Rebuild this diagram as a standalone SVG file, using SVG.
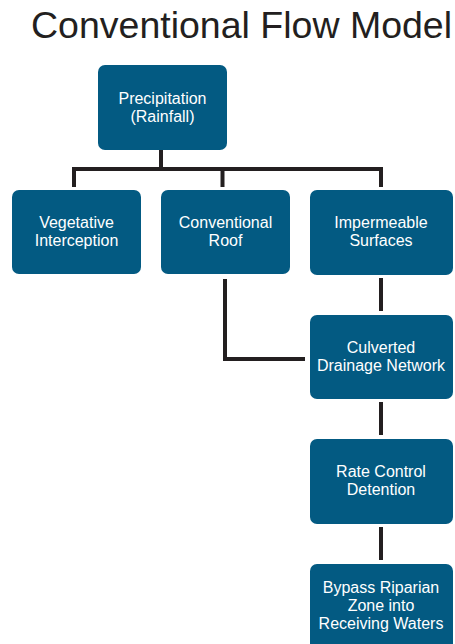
<svg xmlns="http://www.w3.org/2000/svg" width="455" height="644" viewBox="0 0 455 644">
  <style>
    .box { fill: #035a82; }
    .label { font-family: "Liberation Sans", Arial, Helvetica, sans-serif; font-size: 16px; fill: #ffffff; text-anchor: middle; }
    .title { font-family: "Liberation Sans", Arial, Helvetica, sans-serif; font-size: 37.5px; fill: #231f20; }
    .wire { fill: none; stroke: #231f20; stroke-width: 4; stroke-linecap: butt; stroke-linejoin: miter; }
  </style>
  <rect width="455" height="644" fill="#ffffff"/>

  <text class="title" x="31" y="38">Conventional Flow Model</text>

  <!-- connectors -->
  <g id="connectors">
    <path class="wire" d="M161 150 V169"/>
    <path class="wire" d="M74 187 V169 H381 V187"/>
    <path class="wire" d="M222.5 169 V187"/>
    <path class="wire" d="M381 278 V311"/>
    <path class="wire" d="M225 279 V359 H305"/>
    <path class="wire" d="M381 402 V435"/>
    <path class="wire" d="M381 527 V560"/>
  </g>

  <g id="precipitation">
    <rect class="box" x="98" y="65" width="129" height="85" rx="7"/>
    <text class="label" x="162.5" y="104">Precipitation</text>
    <text class="label" x="162.5" y="122">(Rainfall)</text>
  </g>

  <g id="vegetative-interception">
    <rect class="box" x="12" y="190" width="129" height="84" rx="7"/>
    <text class="label" x="76.5" y="228">Vegetative</text>
    <text class="label" x="76.5" y="246">Interception</text>
  </g>

  <g id="conventional-roof">
    <rect class="box" x="161" y="190" width="129" height="84" rx="7"/>
    <text class="label" x="225.5" y="228">Conventional</text>
    <text class="label" x="225.5" y="246">Roof</text>
  </g>

  <g id="impermeable-surfaces">
    <rect class="box" x="310" y="190" width="143" height="85" rx="7"/>
    <text class="label" x="381" y="228">Impermeable</text>
    <text class="label" x="381" y="246">Surfaces</text>
  </g>

  <g id="culverted-drainage">
    <rect class="box" x="310" y="315" width="143" height="84" rx="7"/>
    <text class="label" x="381" y="353">Culverted</text>
    <text class="label" x="381" y="371">Drainage Network</text>
  </g>

  <g id="rate-control">
    <rect class="box" x="310" y="439" width="143" height="85" rx="7"/>
    <text class="label" x="381" y="477">Rate Control</text>
    <text class="label" x="381" y="495">Detention</text>
  </g>

  <g id="bypass-riparian">
    <rect class="box" x="310" y="564" width="143" height="90" rx="7"/>
    <text class="label" x="381" y="593">Bypass Riparian</text>
    <text class="label" x="381" y="611">Zone into</text>
    <text class="label" x="381" y="629">Receiving Waters</text>
  </g>
</svg>
